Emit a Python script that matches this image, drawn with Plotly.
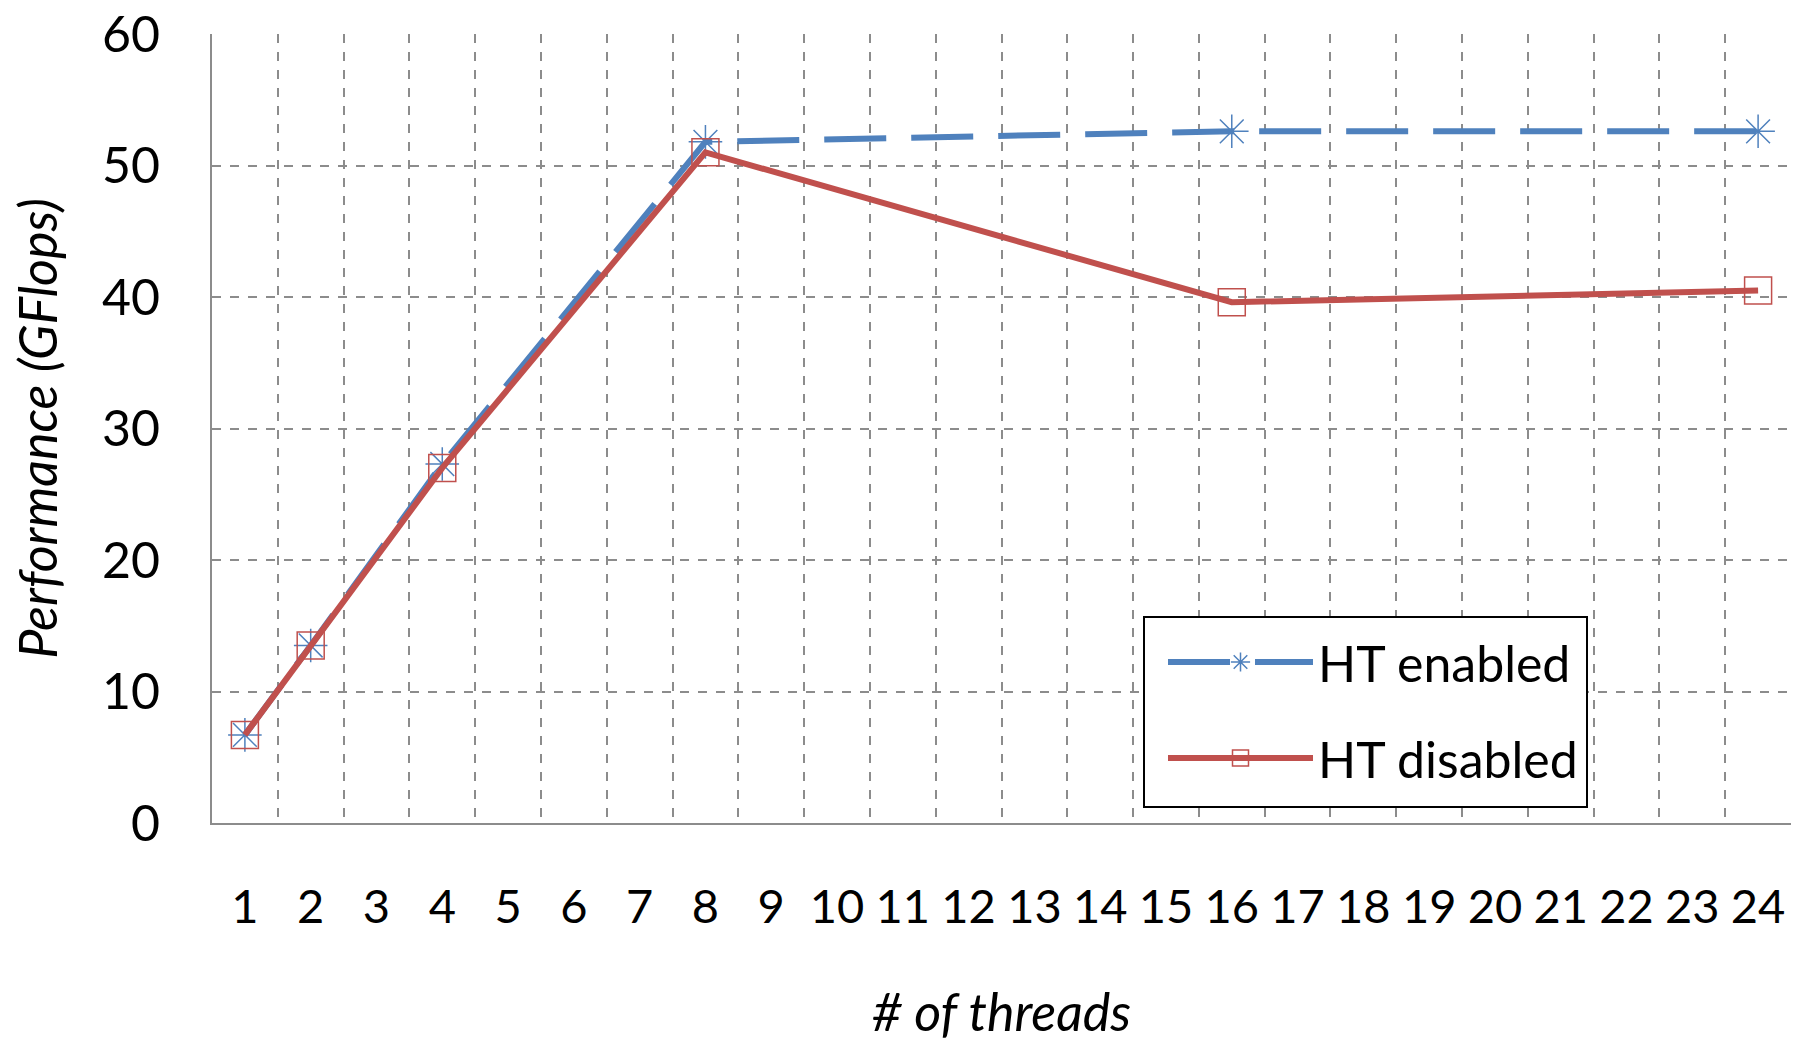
import plotly.graph_objects as go

thread_labels = [str(i) for i in range(1, 25)]
threads = ["1", "2", "4", "8", "16", "24"]
ht_enabled = [6.7, 13.5, 27.3, 51.8, 52.6, 52.6]
ht_disabled = [6.7, 13.5, 27.0, 51.0, 39.6, 40.5]
y_ticks = [0, 10, 20, 30, 40, 50, 60]

FONT = "Lato"
BLUE = "#4F81BD"
RED = "#C0504D"

fig = go.Figure()
fig.add_trace(go.Scatter(
    x=threads, y=ht_enabled, name="HT enabled", mode="lines+markers", legendgroup="a",
    line=dict(color=BLUE, width=6, dash="62px,25px"),
    marker=dict(symbol="asterisk-open", size=28, color=BLUE, line=dict(color=BLUE, width=1.5)),
))
fig.add_trace(go.Scatter(
    x=threads, y=ht_disabled, name="HT disabled", mode="lines+markers", legendgroup="b",
    line=dict(color=RED, width=6),
    marker=dict(symbol="square-open", size=27, color=RED, line=dict(color=RED, width=1.5)),
))

# legend frame
fig.add_shape(type="rect", xref="paper", yref="paper",
              x0=(1144 - 212) / 1579, x1=(1587 - 212) / 1579,
              y0=(823 - 807) / 789, y1=(823 - 617) / 789,
              fillcolor="white", line=dict(color="black", width=2), layer="above")

fig.update_layout(
    width=1797, height=1042,
    margin=dict(l=212, r=6, t=34, b=219, autoexpand=False),
    paper_bgcolor="white", plot_bgcolor="white",
    font=dict(family=FONT, size=48, color="black"),
    legend=dict(
        x=(1163 - 212) / 1579, y=(823 - 623) / 789, xanchor="left", yanchor="top",
        bgcolor="rgba(0,0,0,0)", borderwidth=0,
        font=dict(family=FONT, size=50, color="black"),
        itemwidth=145, tracegroupgap=28,
    ),
    xaxis=dict(
        type="category", categoryorder="array", categoryarray=thread_labels,
        tickvals=thread_labels, ticktext=thread_labels,
        tickson="boundaries", range=[-0.5, 23.5],
        showgrid=True, gridcolor="#8c8c8c", griddash="dash", gridwidth=1.5,
        showline=True, linecolor="#8c8c8c", linewidth=2,
        ticks="", ticklabelstandoff=42, tickangle=0, automargin=False,
        tickfont=dict(family=FONT, size=47),
        title=dict(text="<i># of threads</i>", font=dict(family=FONT, size=52), standoff=63),
        zeroline=False,
    ),
    yaxis=dict(
        range=[0, 60], tickvals=y_ticks, automargin=False,
        showgrid=True, gridcolor="#8c8c8c", griddash="dash", gridwidth=1.5,
        showline=True, linecolor="#8c8c8c", linewidth=2,
        ticks="", ticklabelstandoff=40,
        tickfont=dict(family=FONT, size=50),
        title=dict(text="<i>Performance (GFlops)</i>", font=dict(family=FONT, size=52), standoff=28),
        zeroline=False,
    ),
)

fig.write_html("out.html")
